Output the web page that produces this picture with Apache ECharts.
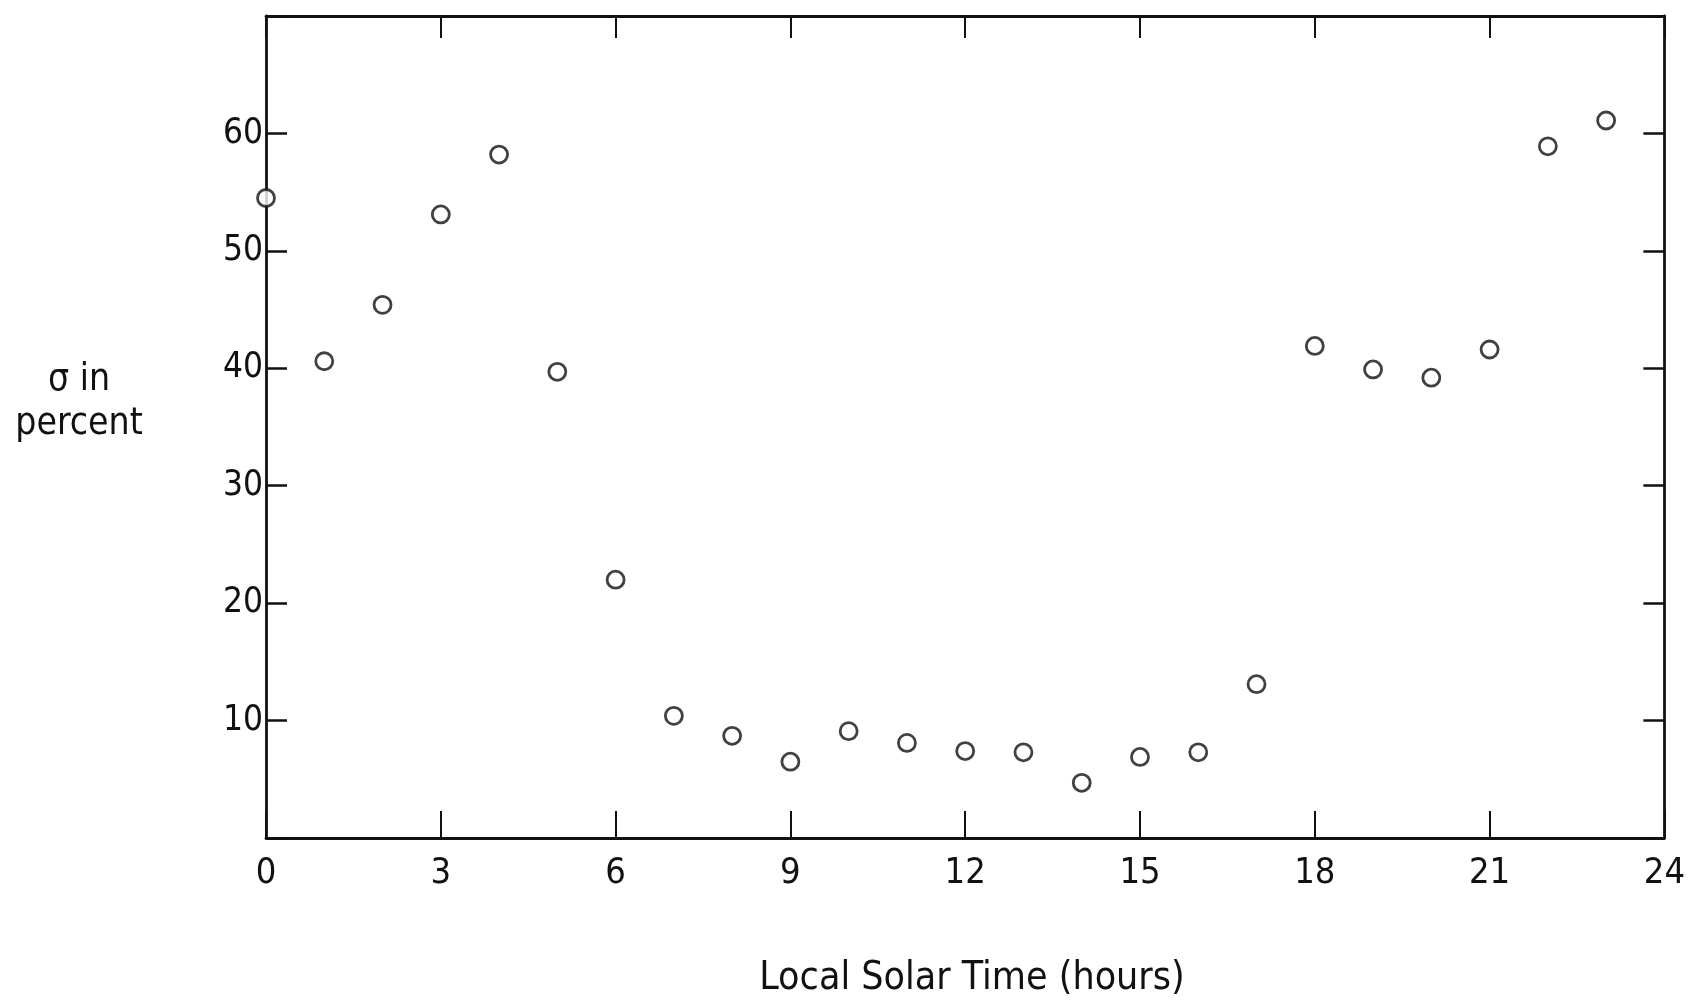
<!DOCTYPE html>
<html>
<head>
<meta charset="utf-8">
<script src="https://cdn.jsdelivr.net/npm/echarts@6/dist/echarts.min.js"></script>
<style>
html,body{margin:0;padding:0;background:#fff;}
#chart{width:1688px;height:1001px;}
</style>
</head>
<body>
<div id="chart"></div>
<script>
// Data
const hours = [0,1,2,3,4,5,6,7,8,9,10,11,12,13,14,15,16,17,18,19,20,21,22,23];
const sigma = [54.5,40.6,45.4,53.1,58.2,39.7,22.0,10.4,8.7,6.5,9.1,8.1,7.4,7.3,4.7,6.9,7.3,13.1,41.9,39.9,39.2,41.6,58.9,61.1];
const xTickLabels = ['0','3','6','9','12','15','18','21','24'];
const yTickLabels = ['10','20','30','40','50','60'];
const xTitle = 'Local Solar Time (hours)';
const yTitle = 'σ in\npercent';

const FONT = '"Liberation Sans Narrow","DejaVu Sans Condensed","Liberation Sans",sans-serif';
const INK = '#111';

const points = hours.map((h, i) => [h, sigma[i]]);

const chart = echarts.init(document.getElementById('chart'));
const lineStyle = {color: INK, width: 2.8};
chart.setOption({
  backgroundColor: '#ffffff',
  animation: false,
  grid: {left: 266, right: 14, top: 16, bottom: 163},
  xAxis: [
    {
      type: 'value', min: 0, max: 24, interval: 3, position: 'bottom',
      axisLine: {show: true, onZero: false, lineStyle: lineStyle},
      axisTick: {show: true, inside: true, length: 27, lineStyle: {color: INK, width: 2}},
      axisLabel: {
        show: true, margin: 18, color: INK, fontFamily: FONT, fontSize: 36,
        formatter: v => xTickLabels.includes(String(v)) ? String(v) : ''
      },
      splitLine: {show: false}
    },
    {
      type: 'value', min: 0, max: 24, interval: 3, position: 'top',
      axisLine: {show: true, onZero: false, lineStyle: lineStyle},
      axisTick: {show: true, inside: true, length: 22, lineStyle: {color: INK, width: 2}},
      axisLabel: {show: false},
      splitLine: {show: false}
    }
  ],
  yAxis: [
    {
      type: 'value', min: 0, max: 70, interval: 10, position: 'left',
      axisLine: {show: true, onZero: false, lineStyle: lineStyle},
      axisTick: {show: true, inside: true, length: 21, lineStyle: {color: INK, width: 2.5}},
      axisLabel: {
        show: true, margin: 3, color: INK, fontFamily: FONT, fontSize: 35,
        formatter: v => yTickLabels.includes(String(v)) ? String(v) : ''
      },
      splitLine: {show: false}
    },
    {
      type: 'value', min: 0, max: 70, interval: 10, position: 'right',
      axisLine: {show: true, onZero: false, lineStyle: lineStyle},
      axisTick: {show: true, inside: true, length: 21, lineStyle: {color: INK, width: 2.5}},
      axisLabel: {show: false},
      splitLine: {show: false}
    }
  ],
  graphic: [
    {
      type: 'text', x: 79, y: 358,
      style: {text: yTitle, fill: INK, font: '37px ' + FONT, textAlign: 'center', lineHeight: 44}
    },
    {
      type: 'text', x: 972, y: 959,
      style: {text: xTitle, fill: INK, font: '39px ' + FONT, textAlign: 'center'}
    }
  ],
  series: [
    {
      type: 'scatter',
      xAxisIndex: 0, yAxisIndex: 0,
      data: points,
      symbol: 'circle',
      symbolSize: 17,
      itemStyle: {color: '#ffffff', borderColor: INK, borderWidth: 2.8},
      clip: false
    }
  ]
});
</script>
</body>
</html>
